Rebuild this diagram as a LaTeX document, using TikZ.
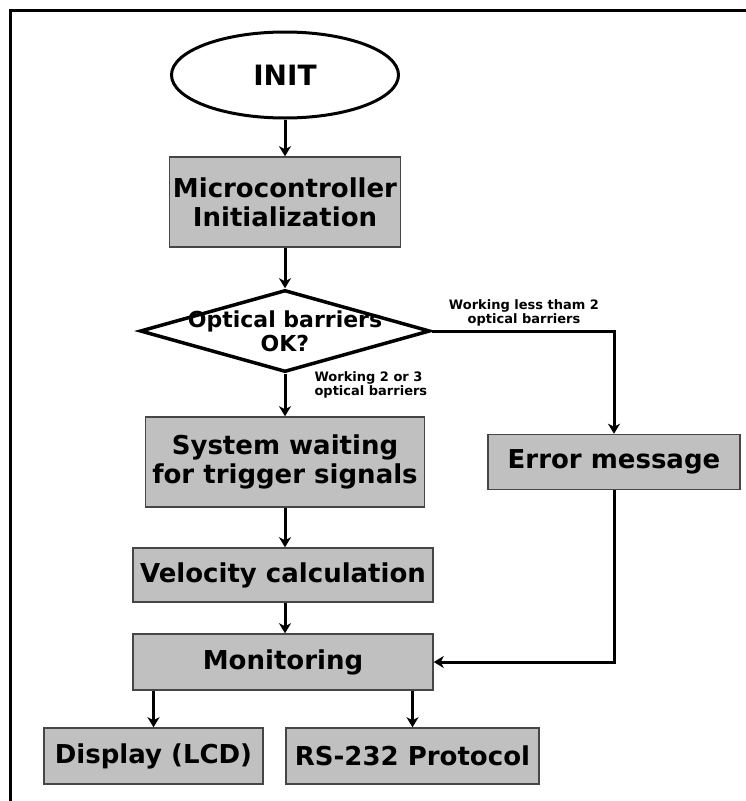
\documentclass[tikz,border=0pt]{standalone}
\usepackage{fontspec}
\setmainfont{DejaVu Sans}
\usepackage{tikz}
\usetikzlibrary{shapes, arrows.meta, positioning, calc}

\definecolor{boxgray}{RGB}{192,192,192}
\definecolor{edgegray}{RGB}{70,70,70}

\begin{document}
\begin{tikzpicture}[
    x=1pt, y=-1pt,
    >={Stealth[length=10pt, width=12pt, inset=3pt]},
    box/.style={rectangle, draw=edgegray, line width=1.5pt, fill=boxgray, inner sep=0pt, align=center, font=\fontsize{26}{29}\selectfont\bfseries},
    start/.style={ellipse, draw, line width=3pt, inner sep=0pt, font=\fontsize{28}{30}\selectfont\bfseries},
    decision/.style={diamond, draw, line width=3.5pt, inner sep=0pt},
    note/.style={align=left, font=\fontsize{13}{13.5}\selectfont\bfseries},
    flow/.style={->, line width=3pt}
]
\useasboundingbox (0,0) rectangle (746,801);

% Frame
\draw[line width=3pt] (10,801) -- (10,10) -- (746,10);

% Start
\node[start, minimum width=227, minimum height=86] (init) at (285,75) {INIT};

% Initialization
\node[box, minimum width=231, minimum height=90] (micro) at (285,202) {Microcontroller\\Initialization};

% Check barriers
\node[decision, minimum width=290, minimum height=82] (check) at (285,331) {};
\node[align=center, font=\fontsize{22}{24}\selectfont\bfseries] (checktext) at (check) {Optical barriers\\OK?};

% Waiting and error
\node[box, minimum width=279, minimum height=90] (wait) at (285,462) {System waiting\\for trigger signals};
\node[box, minimum width=252, minimum height=55] (error) at (614,462) {Error message};

% Calculation
\node[box, minimum width=300, minimum height=54] (velocity) at (283,575) {Velocity calculation};

% Monitoring
\node[box, minimum width=300, minimum height=56] (monitor) at (283,662) {Monitoring};

% Outputs
\node[box, minimum width=219, minimum height=56] (lcd) at (153.5,756) {Display (LCD)};
\node[box, minimum width=253, minimum height=56] (serial) at (412.5,756) {RS-232 Protocol};

% Branch labels
\node[note, align=center] (lessnote) at (524,313) {Working less tham 2\\optical barriers};
\node[note, anchor=west] (okaynote) at (311,385) {Working 2 or 3\\optical barriers};

% Arrows
\draw[flow] (init) -- (micro);
\draw[flow] (micro) -- (check);
\draw[flow] (check) -- (wait);
\draw[flow] (check.east) -- (error.north |- check.east) -- (error.north);
\draw[flow] (wait.south) -- (velocity.north -| wait.south);
\draw[flow] (velocity.south -| wait.south) -- (monitor.north -| wait.south);
\draw[flow] (error.south) |- (monitor.east);
\draw[flow] (lcd.north |- monitor.south) -- (lcd.north);
\draw[flow] (serial.north |- monitor.south) -- (serial.north);

\end{tikzpicture}
\end{document}
